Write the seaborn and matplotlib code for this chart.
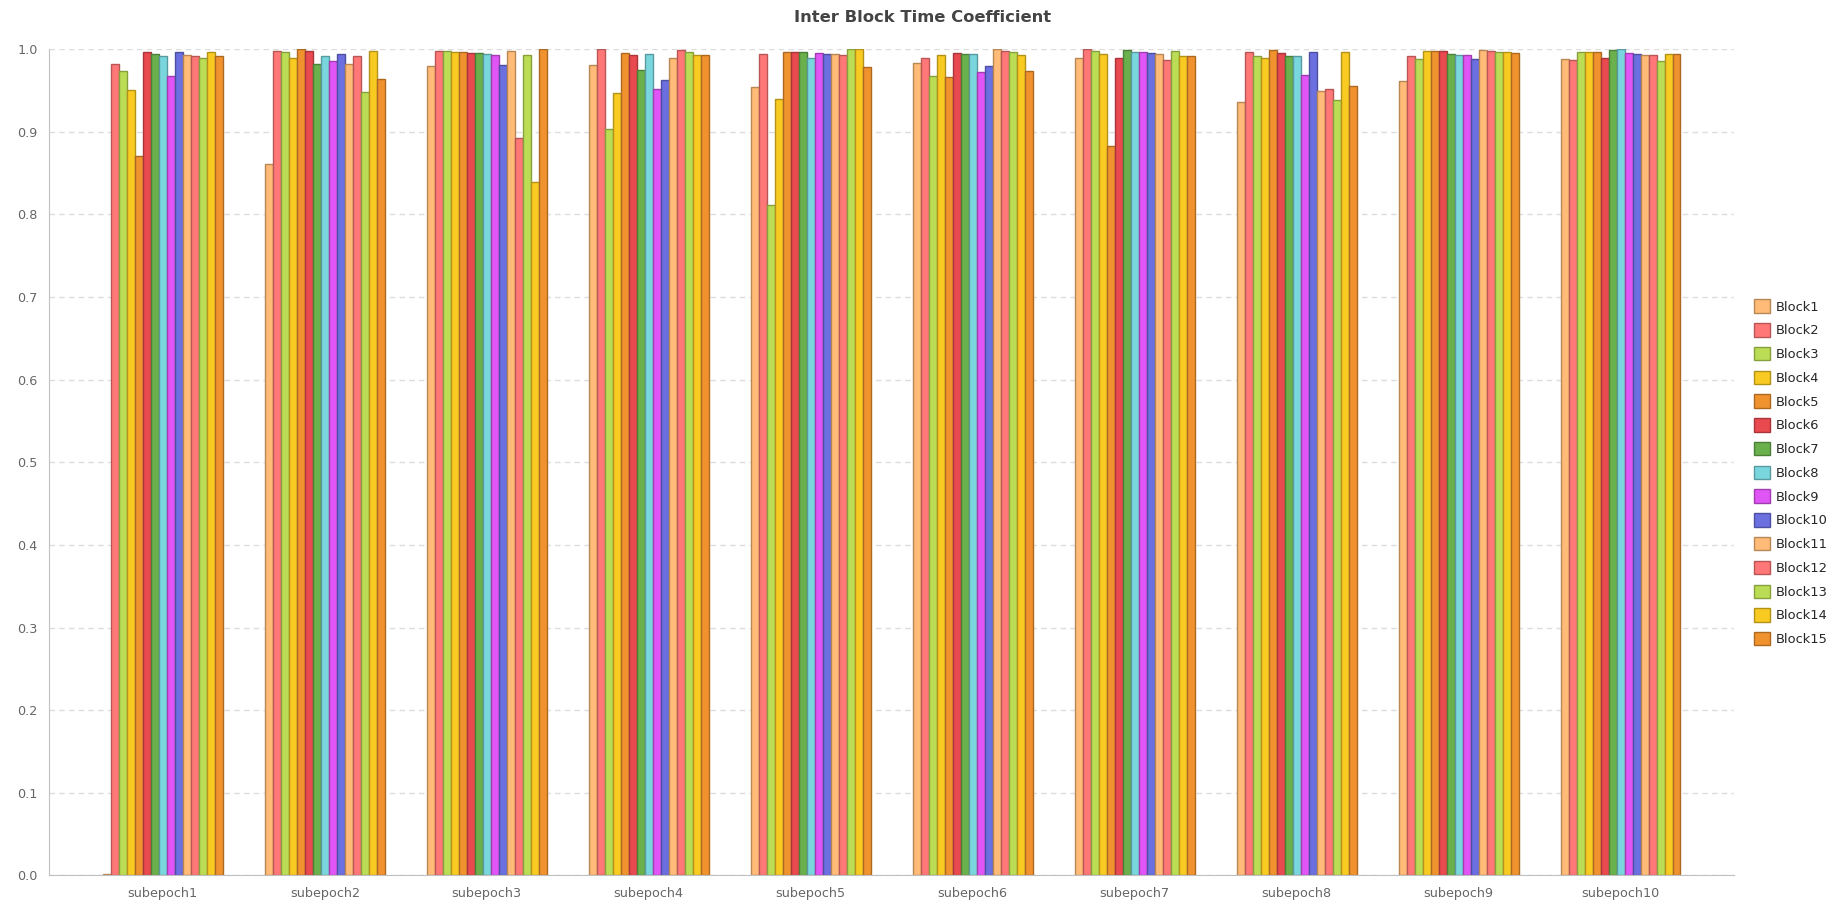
import numpy as np
import pandas as pd
import matplotlib
matplotlib.use("Agg")
import matplotlib.pyplot as plt
import matplotlib.colors as mcolors
import seaborn as sns

# Data
SUBEPOCHS = [f"subepoch{i}" for i in range(1, 11)]
BLOCKS = [f"Block{i}" for i in range(1, 16)]

# one row per subepoch, Block1..Block15
sub1 = [0.002, 0.982, 0.9735, 0.9506, 0.871, 0.9964, 0.994, 0.9916, 0.9675, 0.9964, 0.9928, 0.9916, 0.990, 0.9964, 0.9916]
sub2 = [0.8614, 0.9976, 0.9964, 0.990, 1.0, 0.9976, 0.982, 0.9916, 0.9855, 0.994, 0.982, 0.9916, 0.948, 0.9976, 0.9639]
sub3 = [0.9795, 0.9976, 0.9976, 0.9964, 0.9964, 0.995, 0.995, 0.994, 0.9928, 0.9807, 0.9976, 0.8928, 0.9928, 0.8398, 1.0]
sub4 = [0.9807, 1.0, 0.9036, 0.947, 0.9952, 0.9928, 0.9747, 0.994, 0.9518, 0.9627, 0.990, 0.9988, 0.9964, 0.9928, 0.9928]
sub5 = [0.9542, 0.994, 0.812, 0.9398, 0.9964, 0.9964, 0.9964, 0.990, 0.9952, 0.994, 0.994, 0.9928, 1.0, 1.0, 0.9783]
sub6 = [0.9831, 0.990, 0.9675, 0.9928, 0.9663, 0.9952, 0.994, 0.994, 0.9723, 0.9795, 1.0, 0.9976, 0.9964, 0.9928, 0.9735]
sub7 = [0.990, 1.0, 0.9976, 0.994, 0.8831, 0.9892, 0.9988, 0.9964, 0.9964, 0.9952, 0.994, 0.9867, 0.9976, 0.9916, 0.9916]
sub8 = [0.9361, 0.9964, 0.9916, 0.990, 0.9988, 0.9952, 0.9916, 0.9916, 0.9687, 0.9964, 0.9494, 0.9518, 0.9386, 0.9964, 0.9554]
sub9 = [0.9614, 0.9916, 0.988, 0.9976, 0.9976, 0.9976, 0.994, 0.9928, 0.9928, 0.988, 0.9988, 0.9976, 0.9964, 0.9964, 0.9952]
sub10 = [0.988, 0.9867, 0.9964, 0.9964, 0.9964, 0.990, 0.9988, 1.0, 0.9952, 0.994, 0.9928, 0.9928, 0.9855, 0.994, 0.994]

VALUES = [sub1, sub2, sub3, sub4, sub5, sub6, sub7, sub8, sub9, sub10]

BASE_COLORS = ["#FFBB77", "#FF7777", "#BBDD55", "#F9CB22", "#F0922E",
               "#E84A4F", "#6AB04C", "#7AD6DD", "#E055F5", "#6B6FE0"]
COLORS = BASE_COLORS + BASE_COLORS[:5]


def darker(c, f=0.72):
    r, g, b = mcolors.to_rgb(c)
    return (r * f, g * f, b * f)


rows = []
for s, vals in zip(SUBEPOCHS, VALUES):
    for b, v in zip(BLOCKS, vals):
        rows.append({"subepoch": s, "block": b, "value": v})
df = pd.DataFrame(rows)

sns.set_style("white")
plt.rcParams["font.family"] = ["DejaVu Sans"]

fig = plt.figure(figsize=(18.46, 9.18), dpi=100)
ax = fig.add_axes([0.0268, 0.0465, 0.9125, 0.8998])

sns.barplot(data=df, x="subepoch", y="value", hue="block",
            order=SUBEPOCHS, hue_order=BLOCKS, palette=COLORS,
            saturation=1, width=0.74, linewidth=1, ax=ax, legend=True)

# darker outline per bar, same hue as the fill
for p in ax.patches:
    p.set_edgecolor(darker(p.get_facecolor()))
    p.set_linewidth(1)

ax.set_xlim(-0.7, 9.7)
ax.set_ylim(0, 1.0)
ax.set_yticks(np.arange(0, 1.01, 0.1))
ax.set_yticklabels([f"{t:.1f}" for t in np.arange(0, 1.01, 0.1)])
ax.set_xlabel("")
ax.set_ylabel("")

ax.yaxis.grid(True, linestyle=(0, (4, 3)), color="#dddddd", linewidth=1)
ax.set_axisbelow(True)
for side in ["top", "right"]:
    ax.spines[side].set_visible(False)
for side in ["left", "bottom"]:
    ax.spines[side].set_color("#c0c0c0")
ax.tick_params(axis="both", colors="#c0c0c0", length=5, labelcolor="#666666", labelsize=9.2)

fig.suptitle("Inter Block Time Coefficient", fontsize=11.8, fontweight="bold",
             color="#444444", x=0.5, y=0.981, va="center")

handles, labels = ax.get_legend_handles_labels()
for h in handles:
    h.set_edgecolor(darker(h.get_facecolor()))
ax.legend(handles, labels, loc="center left", bbox_to_anchor=(0.9438, 0.485),
          bbox_transform=fig.transFigure, frameon=False, fontsize=9.4,
          handlelength=1.2, handleheight=1.2, handletextpad=0.5, labelspacing=0.74)

fig.savefig("out.png", dpi=100)
